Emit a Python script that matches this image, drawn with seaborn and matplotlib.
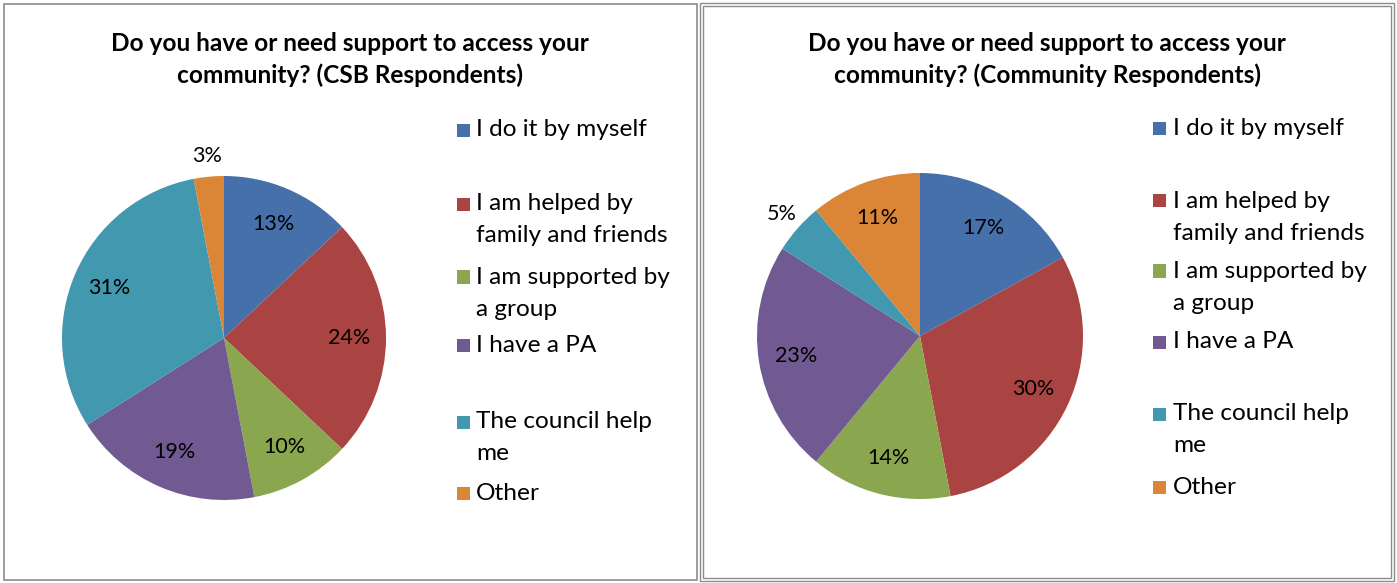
import matplotlib
matplotlib.use("Agg")
import numpy as np
import matplotlib.pyplot as plt
import seaborn as sns
from matplotlib.patches import Rectangle

sns.set_theme(style="white")
plt.rcParams['font.family'] = ['Lato', 'DejaVu Sans']

# ---- data ----
categories = ["I do it by myself", "I am helped by\nfamily and friends",
              "I am supported by\na group", "I have a PA",
              "The council help\nme", "Other"]
csb_values = [13, 24, 10, 19, 31, 3]
community_values = [17, 30, 14, 23, 5, 11]
titles = ["Do you have or need support to access your\ncommunity? (CSB Respondents)",
          "Do you have or need support to access your\ncommunity? (Community Respondents)"]

colors = ["#4670A9", "#A94442", "#8AA64E", "#715A92", "#4198AF", "#DB8537"]

W, H = 1397, 583
fig = plt.figure(figsize=(W / 100, H / 100), dpi=100)

def fx(x):
    return x / W

def fy(y):
    return 1 - y / H

# frames
fig.patches.append(Rectangle((fx(4), fy(580)), fx(697 - 4), (580 - 4) / H,
                             transform=fig.transFigure, fill=False,
                             edgecolor="#8c8c8c", lw=1.2))
fig.patches.append(Rectangle((fx(700), fy(581)), fx(1394 - 700), (581 - 3) / H,
                             transform=fig.transFigure, fill=False,
                             edgecolor="#8c8c8c", lw=1.0))
fig.patches.append(Rectangle((fx(703), fy(578)), fx(1391 - 703), (578 - 6) / H,
                             transform=fig.transFigure, fill=False,
                             edgecolor="#8c8c8c", lw=1.0))

panels = [
    dict(values=csb_values, cx=224, cy=338, r=162, title_x=350,
         leg_sq=457, leg_tx=476,
         leg_y=[130, 204, 277, 345, 422, 493]),
    dict(values=community_values, cx=920, cy=336, r=163, title_x=1047,
         leg_sq=1153, leg_tx=1173,
         leg_y=[128, 201, 271, 342, 414, 487]),
]

for p, title in zip(panels, titles):
    r = p["r"]
    ax = fig.add_axes([fx(p["cx"] - r), fy(p["cy"] + r), 2 * r / W, 2 * r / H])
    vals = p["values"]
    wedges, texts = ax.pie(vals, colors=colors, startangle=90, counterclock=False,
                           radius=1.0, wedgeprops=dict(linewidth=0))
    total = sum(vals)
    cum = 0
    for v in vals:
        mid = 90 - (cum + v / 2) / total * 360
        cum += v
        d = 0.77 if v >= 10 else 1.13
        ax.text(d * np.cos(np.radians(mid)), d * np.sin(np.radians(mid)),
                f"{v}%", ha="center", va="center", fontsize=15.5, color="black",
                clip_on=False)
    ax.set_xlim(-1, 1)
    ax.set_ylim(-1, 1)
    ax.set_aspect("equal")
    ax.axis("off")

    fig.text(fx(p["title_x"]), fy(59.5), title, ha="center", va="center",
             fontsize=17.6, fontweight="bold", linespacing=1.45, color="black")

    for lab, col, y in zip(categories, colors, p["leg_y"]):
        sq = 13
        fig.patches.append(Rectangle((fx(p["leg_sq"]), fy(y + sq / 2)), sq / W, sq / H,
                                     transform=fig.transFigure, color=col, lw=0))
        for i, line in enumerate(lab.split("\n")):
            fig.text(fx(p["leg_tx"]), fy(y + i * 32), line, ha="left", va="center",
                     fontsize=17.6, color="black")

fig.savefig("out.png", dpi=100)
